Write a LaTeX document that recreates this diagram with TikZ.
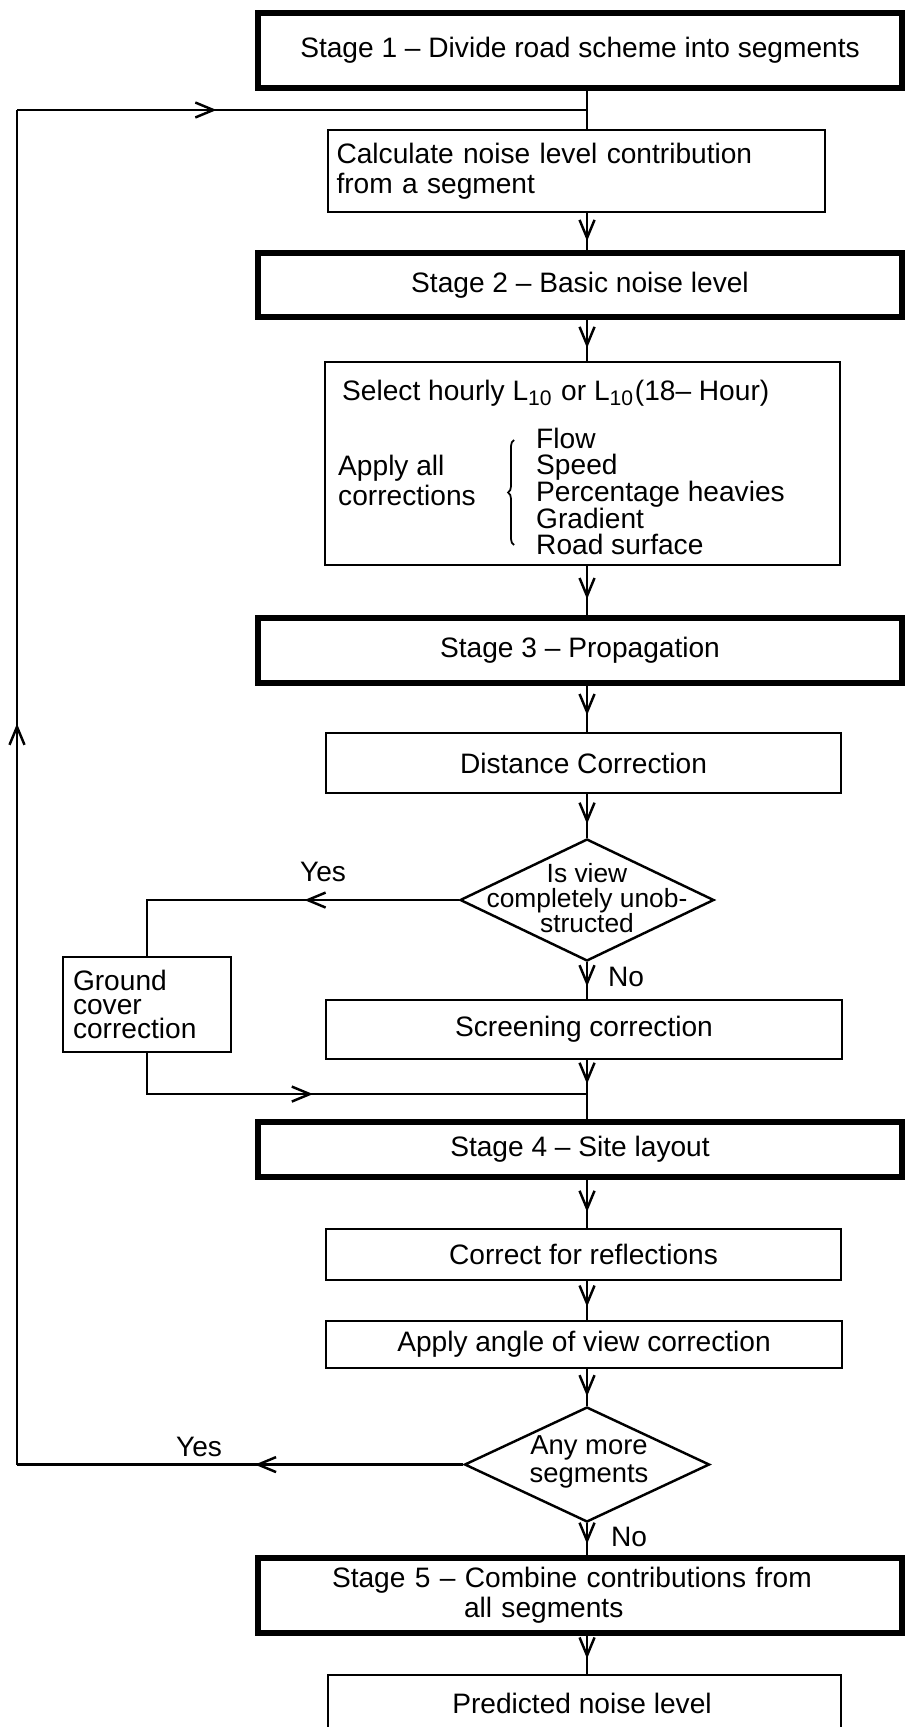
\documentclass[tikz,border=0pt]{standalone}
\usepackage{fontspec}
\setmainfont{Liberation Sans}
\usetikzlibrary{arrows.meta,shapes.geometric,decorations.markings,decorations.pathreplacing}

\tikzset{
  stagebox/.style={draw, line width=1.5pt, minimum width=64.4mm, inner sep=0pt},
  stepbox/.style={draw, line width=0.7pt, minimum width=51.5mm, inner sep=0pt},
  decision/.style={draw, diamond, line width=0.7pt, inner sep=0pt},
  midarrow/.style={postaction={decorate}, decoration={markings,
      mark=at position #1 with {\arrow{Straight Barb[length=1.8mm,width=1.5mm]}}}},
}

\begin{document}
\begin{tikzpicture}[scale=0.1, line width=0.7pt, font=\fontsize{8}{8.5}\selectfont]
        \useasboundingbox (0,0) rectangle (90.4,-172.7);
        \coordinate (spine) at (58.7,0);
        \coordinate (loopTop) at (1.7,-11.0);
        \coordinate (loopIn) at (58.7,-11.0);
        \coordinate (join) at (58.7,-109.4);
        % stage 1 and 2
        \node [stagebox, minimum height=7.5mm] (s1) at (58.0,-5.05) {Stage 1 -- Divide road scheme into segments};
        \node [stepbox, minimum width=0pt, text width=48mm, inner xsep=0.85mm, align=left, minimum height=8.2mm] (calc) at (57.65,-17.1) {Calculate noise level contribution\\from a segment};
        \node [stagebox, minimum height=6.4mm] (s2) at (58.0,-28.5) {Stage 2 -- Basic noise level};
        \node [stepbox, minimum height=20.3mm] (sel) at (58.25,-46.35) {};
        \node [anchor=west, inner sep=0pt] (selhead) at (34.1,-39.3) {Select hourly L\textsubscript{10} or L\textsubscript{10}(18-- Hour)};
        \node [anchor=west, inner sep=0pt, align=left, font=\fontsize{8}{7.1}\selectfont] (applyall) at (33.7,-48.05) {Apply all\\corrections};
        \node [anchor=west, inner sep=0pt, align=left, font=\fontsize{8}{7.6}\selectfont] (corrlist) at (53.5,-49.15) {Flow\\Speed\\Percentage heavies\\Gradient\\Road surface};
        \draw [line width=0.5pt, decorate, decoration={brace, amplitude=0.6mm}] (51.4,-54.5) -- (51.4,-44.0);
        % stage 3
        \node [stagebox, minimum height=6.5mm] (s3) at (58.0,-65.05) {Stage 3 -- Propagation};
        \node [stepbox, minimum height=6.0mm] (dist) at (58.35,-76.3) {Distance Correction};
        \node [decision, minimum width=25.4mm, minimum height=12.2mm] (d1) at (58.7,-90.0) {};
        \node [align=center, inner sep=0pt, font=\fontsize{7.5}{7.1}\selectfont] (d1txt) at (58.7,-89.8) {Is view\\completely unob-\\structed};
        \node (yes1) at (32.3,-87.2) {Yes};
        \node (no1) at (62.6,-97.7) {No};
        \node [draw, text width=14.8mm, inner xsep=1mm, inner ysep=0pt, minimum height=9.5mm, align=left, font=\fontsize{8}{6.8}\selectfont] (ground) at (14.7,-100.45) {Ground\\cover\\correction};
        \node [stepbox, minimum width=51.6mm, minimum height=5.9mm] (scr) at (58.4,-102.95) {Screening correction};
        % stage 4
        \node [stagebox, minimum height=5.5mm] (s4) at (58.0,-114.95) {Stage 4 -- Site layout};
        \node [stepbox, minimum height=5.1mm] (refl) at (58.35,-125.45) {Correct for reflections};
        \node [stepbox, minimum width=51.6mm, minimum height=4.7mm] (ang) at (58.4,-134.45) {Apply angle of view correction};
        \node [decision, minimum width=24.5mm, minimum height=11.5mm] (d2) at (58.7,-146.45) {};
        \node [align=center, inner sep=0pt, font=\fontsize{7.8}{8}\selectfont] (d2txt) at (58.9,-146.2) {Any more\\segments};
        \node (yes2) at (19.9,-144.7) {Yes};
        \node (no2) at (62.9,-153.7) {No};
        % stage 5
        \node [stagebox, minimum width=0pt, text width=49.6mm, inner xsep=7.4mm, inner ysep=0pt, align=left, minimum height=7.5mm] (s5) at (58.0,-159.55) {Stage 5 -- Combine contributions from\\\hspace*{13.2mm}all segments};
        \node [stepbox, minimum width=51.3mm, minimum height=6.0mm] (pred) at (58.45,-170.5) {};
        \node [inner sep=0pt] (predtxt) at (58.2,-170.3) {Predicted noise level};
        % connectors
        \draw (s1.south -| spine) -- (calc.north -| spine);
        \draw [midarrow=0.75] (calc.south -| spine) -- (s2.north -| spine);
        \draw [midarrow=0.69] (s2.south -| spine) -- (sel.north -| spine);
        \draw [midarrow=0.67] (sel.south -| spine) -- (s3.north -| spine);
        \draw [midarrow=0.64] (s3.south -| spine) -- (dist.north -| spine);
        \draw [midarrow=0.68] (dist.south -| spine) -- (d1.north);
        \draw [midarrow=0.66] (d1.south) -- (scr.north -| spine);
        \draw [midarrow=0.42] (d1.west) -| (ground.north);
        \draw [midarrow=0.43] (ground.south) |- (join);
        \draw [midarrow=0.7] (scr.south -| spine) -- (join);
        \draw (join) -- (s4.north -| spine);
        \draw [midarrow=0.67] (s4.south -| spine) -- (refl.north -| spine);
        \draw [midarrow=0.66] (refl.south -| spine) -- (ang.north -| spine);
        \draw [midarrow=0.74] (ang.south -| spine) -- (d2.north);
        \draw [midarrow=0.64] (d2.south) -- (s5.north -| spine);
        \draw [midarrow=0.6] (s5.south -| spine) -- (pred.north -| spine);
        % loop back
        \draw [midarrow=0.467] (d2.west) -- (d2.west -| loopTop);
        \draw [midarrow=0.547] (d2.west -| loopTop) -- (loopTop);
        \draw [midarrow=0.35] (loopTop) -- (loopIn);
\end{tikzpicture}
\end{document}
